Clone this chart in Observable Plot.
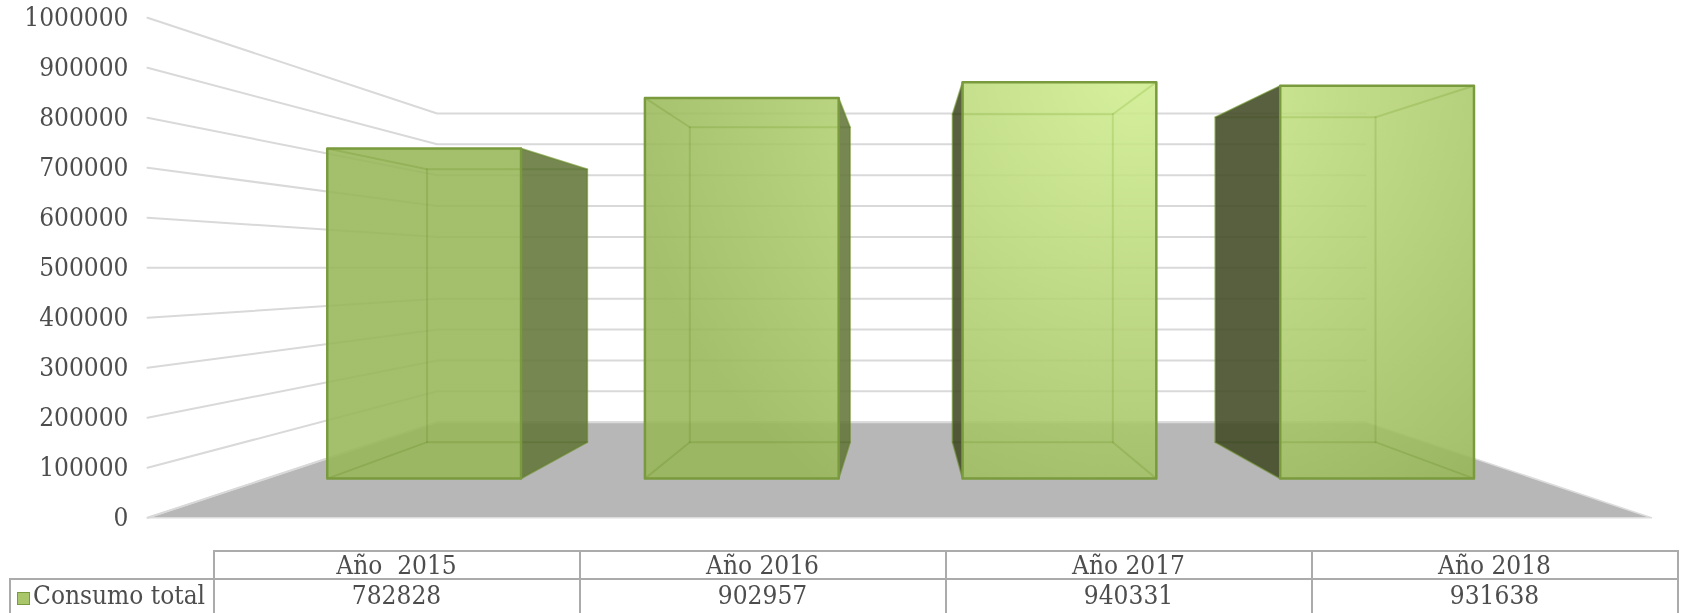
<!DOCTYPE html>
<html>
<head>
<meta charset="utf-8">
<script src="https://cdn.jsdelivr.net/npm/d3@7"></script>
<script src="https://cdn.jsdelivr.net/npm/@observablehq/plot@0.6"></script>
<style>
  html, body { margin: 0; padding: 0; background: #fff; width: 1683px; height: 613px; overflow: hidden; }
  #wrap { position: relative; width: 1683px; height: 613px; overflow: hidden; }
  #wrap svg { display: block; }
  table { position: absolute; left: 9px; top: 549.5px; border-collapse: collapse; table-layout: fixed;
          font: 26px "DejaVu Serif Condensed", "DejaVu Serif", serif; font-stretch: condensed; color: #4d4d4d; }
  td { border: 2px solid #ababab; padding: 0; text-align: center; white-space: pre; overflow: hidden; }
  tr.head td { height: 26px; line-height: 24px; }
  tr.vals td { height: 48px; line-height: 30px; vertical-align: top; }
  td.blank { border-top: none; border-left: none; }
  td.key { text-align: left; }
  .swatch { display: inline-block; width: 11px; height: 11px; margin: 0 3px 0 6px; background: #a9c66b; border: 1.5px solid #7a9a3e; vertical-align: -1px; }
</style>
</head>
<body>
<div id="wrap"></div>
<script>
const categories = ["Año  2015", "Año 2016", "Año 2017", "Año 2018"];
const consumo = [782828, 902957, 940331, 931638];
const yTicks = [0, 100000, 200000, 300000, 400000, 500000, 600000, 700000, 800000, 900000, 1000000];
const seriesName = "Consumo total";

// Perspective box of the 3D chart: floor units run across, depth 0 is the front, 1 the back wall.
const floorLeft = -757, floorRight = 747, barStart = -758, bandStep = 376.7, barShare = 0.61;
const depthFront = 0.3, depthBack = 0.7, perspective = 0.6197, eyeValue = 500000;
const scaleAt = d => 1 / (1 + perspective * d);
const project = (X, v, d) => ({x: X * scaleAt(d), y: eyeValue + (v - eyeValue) * scaleAt(d)});

const path = (z, pts) => pts.map(([X, v, d]) => ({z, ...project(X, v, d)}));

const floor = path("floor", [[floorLeft, 0, 0], [floorRight, 0, 0], [floorRight, 0, 1], [floorLeft, 0, 1]]);
const grid = yTicks.flatMap(t => path("g" + t, [[floorLeft, t, 0], [floorLeft, t, 1], [floorRight, t, 1]]));

const bars = consumo.map((v, i) => {
  const c = barStart + bandStep * (i + 0.5), h = bandStep * barShare / 2;
  return {i, v, a: c - h, b: c + h, near: c < 0 ? c + h : c - h};
});
const sideFaces = bars.flatMap(({i, v, near}) => path("s" + i, [[near, 0, depthFront], [near, v, depthFront], [near, v, depthBack], [near, 0, depthBack]]).map(p => ({...p, i})));
const frontFaces = bars.flatMap(({i, v, a, b}) => path("f" + i, [[a, 0, depthFront], [b, 0, depthFront], [b, v, depthFront], [a, v, depthFront]]));
const backFaces = bars.flatMap(({i, v, a, b}) => path("b" + i, [[a, 0, depthBack], [b, 0, depthBack], [b, v, depthBack], [a, v, depthBack]]));
const diagonals = bars.flatMap(({i, v, a, b}) => [[a, 0], [b, 0], [a, v], [b, v]].flatMap(([X, w], k) =>
  path(`d${i}${k}`, [[X, w, depthFront], [X, w, depthBack]])));

const gradient = () => {
  const defs = d3.create("svg:defs");
  const g = defs.append("radialGradient").attr("id", "barFill").attr("gradientUnits", "userSpaceOnUse")
    .attr("cx", 1135).attr("cy", 70).attr("r", 520);
  g.append("stop").attr("offset", "0%").attr("stop-color", "#d0ee90");
  g.append("stop").attr("offset", "100%").attr("stop-color", "#98b758");
  return defs.node();
};

const closed = (data, o) => Plot.line(data, {x: "x", y: "y", z: "z", curve: "linear-closed", ...o});

const chart = Plot.plot({
  width: 1683, height: 545,
  marginLeft: 147, marginRight: 30, marginTop: 17.3, marginBottom: 27.7,
  style: {fontFamily: '"DejaVu Serif Condensed", "DejaVu Serif", serif', fontStretch: "condensed", fontSize: "26px", color: "#4d4d4d", background: "transparent", overflow: "visible"},
  x: {domain: [floorLeft, 749], axis: null},
  y: {domain: [0, 1000000], axis: null},
  marks: [
    gradient,
    closed(floor, {fill: "#b7b7b7", stroke: "#dcdcdc", strokeWidth: 1.5}),
    Plot.line(grid, {x: "x", y: "y", z: "z", stroke: "#d9d9d9", strokeWidth: 2}),
    closed(sideFaces.filter(d => d.i < 2), {fill: "#63763a", fillOpacity: 0.88, stroke: "#7a9a3e", strokeOpacity: 0.6, strokeWidth: 1.5}),
    closed(sideFaces.filter(d => d.i >= 2), {fill: "#414a24", fillOpacity: 0.88, stroke: "#7a9a3e", strokeOpacity: 0.6, strokeWidth: 1.5}),
    closed(frontFaces, {fill: "url(#barFill)", fillOpacity: 0.88, stroke: "none"}),
    closed(backFaces, {fill: "none", stroke: "#e6eed0", strokeWidth: 2, mixBlendMode: "multiply"}),
    Plot.line(diagonals, {x: "x", y: "y", z: "z", stroke: "#e6eed0", strokeWidth: 2, mixBlendMode: "multiply"}),
    closed(frontFaces, {fill: "none", stroke: "#7a9a3e", strokeWidth: 2.5}),
    Plot.axisY({ticks: yTicks, tickSize: 0, tickPadding: 19, tickFormat: d3.format("d"), fontSize: 26, label: null})
  ]
});
document.getElementById("wrap").append(chart);

// Data table under the chart
const table = d3.select("#wrap").append("table");
const cols = table.append("colgroup");
cols.append("col").style("width", "203.5px");
categories.forEach(() => cols.append("col").style("width", "366px"));
const head = table.append("tr").attr("class", "head");
head.append("td").attr("class", "blank");
categories.forEach(c => head.append("td").text(c));
const row = table.append("tr").attr("class", "vals");
const key = row.append("td").attr("class", "key");
key.append("span").attr("class", "swatch");
key.append("span").text(seriesName);
consumo.forEach(v => row.append("td").text(String(v)));
</script>
</body>
</html>
